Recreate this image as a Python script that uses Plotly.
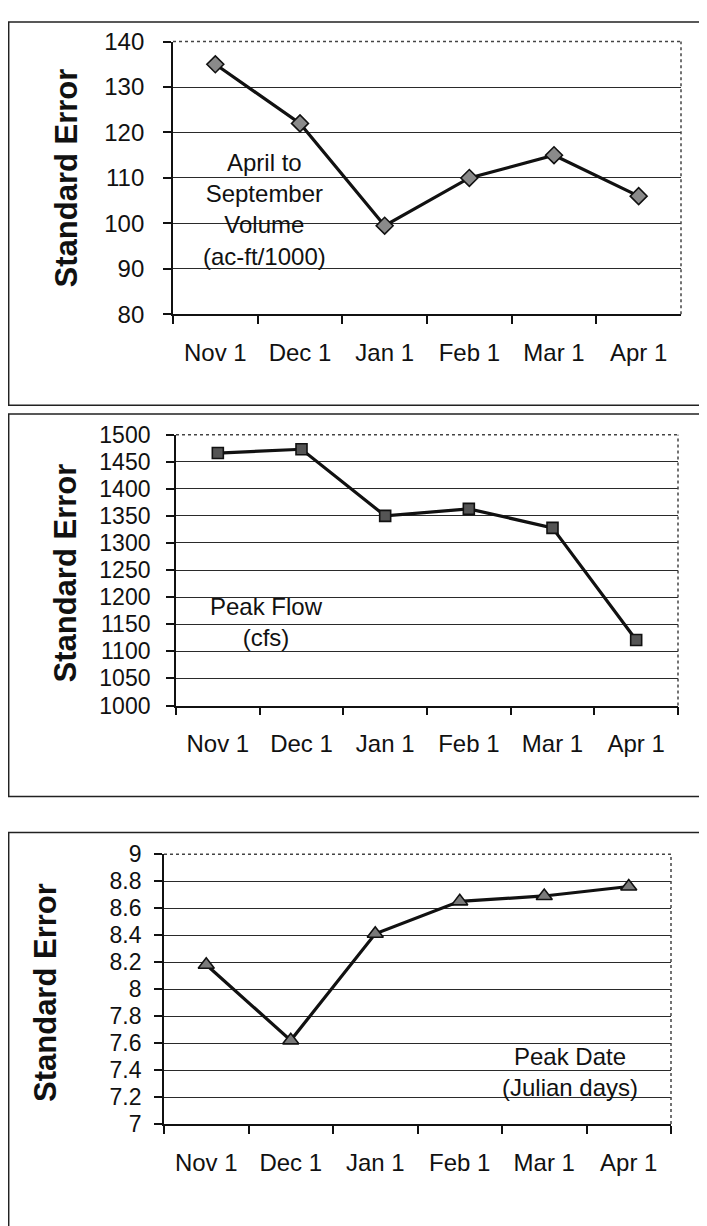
import plotly.graph_objects as go

# The page body adds an 8px margin, so the figure is drawn 8px in from the
# window's top-left; all pixel targets below are window coordinates.
OFF = 8
W, H = 707 - OFF, 1226 - OFF

months = ["Nov 1", "Dec 1", "Jan 1", "Feb 1", "Mar 1", "Apr 1"]
volume_se = [135, 122, 99.5, 110, 115, 106]
peak_flow_se = [1466, 1473, 1350, 1363, 1328, 1121]
peak_date_se = [8.18, 7.62, 8.41, 8.65, 8.69, 8.76]

FONT = "Liberation Sans, Arial, sans-serif"

def px(x):
    return (x - OFF) / W

def py(y):
    return 1 - (y - OFF) / H

fig = go.Figure()

series = [
    (volume_se, "diamond", 13, "#8a8a8a", "x", "y"),
    (peak_flow_se, "square", 11, "#555555", "x2", "y2"),
    (peak_date_se, "triangle-up", 14, "#7a7a7a", "x3", "y3"),
]
for vals, sym, size, fill, xa, ya in series:
    fig.add_trace(go.Scatter(
        x=months, y=vals, mode="lines+markers",
        line=dict(color="#111111", width=3.2),
        marker=dict(symbol=sym, size=size, color=fill,
                    line=dict(color="#111111", width=1.6)),
        xaxis=xa, yaxis=ya, showlegend=False, hoverinfo="skip"))

panels = [
    dict(x0=173, x1=681, y0=28, y1=307, rng=[80, 140], dt=10, stand=14, fs=24),
    dict(x0=176, x1=678, y0=430, y1=707, rng=[1000, 1500], dt=50, stand=11, fs=23),
    dict(x0=164, x1=671, y0=859, y1=1135, rng=[7, 9], dt=0.2, stand=8, fs=23),
]

layout = dict(
    width=W, height=H,
    margin=dict(l=0, r=0, t=0, b=0),
    paper_bgcolor="white", plot_bgcolor="white",
    font=dict(family=FONT, size=24, color="#111111"),
    showlegend=False,
)
shapes = []
for i, p in enumerate(panels, start=1):
    sfx = "" if i == 1 else str(i)
    layout["xaxis" + sfx] = dict(
        domain=[px(p["x0"]), px(p["x1"])],
        anchor="y" + sfx,
        type="category", categoryorder="array", categoryarray=months,
        range=[-0.5, 5.5], tickson="boundaries",
        ticks="outside", ticklen=8, tickwidth=1.5, tickcolor="#111111",
        showgrid=False, showline=True, linecolor="#111111", linewidth=1.8,
        tickfont=dict(family=FONT, size=24, color="#111111"),
        ticklabelstandoff=16, zeroline=False, fixedrange=True,
    )
    layout["yaxis" + sfx] = dict(
        domain=[py(p["y1"]), py(p["y0"])],
        anchor="x" + sfx,
        range=p["rng"], dtick=p["dt"], tick0=p["rng"][0],
        ticks="outside", ticklen=8, tickwidth=1.5, tickcolor="#111111",
        showgrid=True, gridcolor="#2a2a2a", gridwidth=1.4,
        showline=True, linecolor="#111111", linewidth=1.8,
        tickfont=dict(family=FONT, size=p["fs"], color="#111111"),
        ticklabelstandoff=p["stand"], zeroline=False, fixedrange=True,
    )
    xd, yd = "x%s domain" % sfx, "y%s domain" % sfx
    shapes.append(dict(type="line", xref=xd, yref=yd, x0=1, x1=1, y0=0, y1=1,
                       line=dict(color="#444444", width=1.5, dash="dot")))
    shapes.append(dict(type="line", xref=xd, yref=yd, x0=0, x1=1, y0=1, y1=1,
                       line=dict(color="#444444", width=1.5, dash="dot")))

def frame(top, bottom, left=8, right=720):
    pth = "M %f %f L %f %f L %f %f" % (px(right), py(top), px(left) + 0.001, py(top),
                                         px(left) + 0.001, py(bottom))
    if bottom < 1226:
        pth += " L %f %f" % (px(right), py(bottom))
    return dict(type="path", xref="paper", yref="paper", path=pth,
                line=dict(color="#222222", width=1.5))

shapes += [frame(8, 400), frame(409, 800), frame(837, 1240)]
layout["shapes"] = shapes

annotations = []
for xc, yc in [(66, 168), (65, 572), (46, 1001)]:
    annotations.append(dict(
        text="<b>Standard Error</b>", x=px(xc), y=py(yc), xref="paper", yref="paper",
        textangle=-90, showarrow=False, xanchor="center", yanchor="middle",
        font=dict(family=FONT, size=31, color="#111111")))

labels = [
    ("April to<br>September<br>Volume<br>(ac-ft/1000)", 264, 200),
    ("Peak Flow<br>(cfs)", 266, 622),
    ("Peak Date<br>(Julian days)", 570, 1082),
]
for txt, xc, yc in labels:
    annotations.append(dict(
        text=txt, x=px(xc), y=py(yc), xref="paper", yref="paper",
        showarrow=False, xanchor="center", yanchor="middle", align="center",
        font=dict(family=FONT, size=24, color="#111111")))
layout["annotations"] = annotations

fig.update_layout(**layout)
fig.write_html("out.html", config={"displayModeBar": False})
